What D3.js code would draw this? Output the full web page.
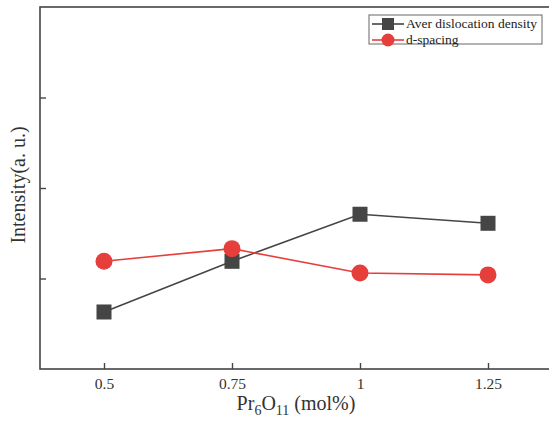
<!DOCTYPE html>
<html>
<head>
<meta charset="utf-8">
<script src="https://cdn.jsdelivr.net/npm/d3@7"></script>
<style>
  body { margin: 0; background: #fff; }
  svg text { font-family: "Liberation Serif", "DejaVu Serif", serif; }
</style>
</head>
<body>
<svg id="chart" width="549" height="426"></svg>
<script>
var xValues = [0.5, 0.75, 1, 1.25]
var xTickLabels = ['0.5', '0.75', '1', '1.25']
var dislocation = [0.63, 1.19, 1.71, 1.61]
var dSpacing = [1.19, 1.33, 1.06, 1.04]
var yTicks = [1, 2, 3]

var serif = '"Liberation Serif", "DejaVu Serif", serif'
var svg = d3.select('#chart')
var margin = {top: 7, right: -3, bottom: 57, left: 40}
var w = +svg.attr('width') - margin.left - margin.right
var h = +svg.attr('height') - margin.top - margin.bottom
var g = svg.append('g').attr('transform', 'translate(' + margin.left + ',' + margin.top + ')')

var x = d3.scaleLinear().domain([0.375, 1.375]).range([0, w])
var y = d3.scaleLinear().domain([0, 4]).range([h, 0])

var axisColor = '#444'

// frame
g.append('rect')
  .attr('x', 0).attr('y', 0).attr('width', w).attr('height', h)
  .attr('fill', 'none').attr('stroke', axisColor).attr('stroke-width', 1.6)

var xAxis = g.append('g')
  .attr('transform', 'translate(0,' + h + ')')
  .call(d3.axisBottom(x).tickValues(xValues).tickSize(-6).tickPadding(9)
    .tickFormat(function (d, i) { return xTickLabels[i] }))
xAxis.attr('font-family', serif).attr('font-size', 15.5)
xAxis.select('.domain').remove()
xAxis.selectAll('line').attr('stroke', axisColor).attr('stroke-width', 1.4)
xAxis.selectAll('text').attr('fill', '#333')

var yAxis = g.append('g')
  .call(d3.axisLeft(y).tickValues(yTicks).tickSize(-6).tickFormat(''))
yAxis.select('.domain').remove()
yAxis.selectAll('line').attr('stroke', axisColor).attr('stroke-width', 1.4)

// axis titles
svg.append('text')
  .attr('transform', 'translate(25,185) rotate(-90)')
  .attr('text-anchor', 'middle')
  .attr('font-family', serif)
  .attr('font-size', 20).attr('fill', '#333')
  .text('Intensity(a. u.)')

var xt = svg.append('text')
  .attr('x', 296).attr('y', 410)
  .attr('text-anchor', 'middle')
  .attr('font-family', serif)
  .attr('font-size', 20).attr('fill', '#333')
xt.append('tspan').text('Pr')
xt.append('tspan').attr('font-size', 14).attr('dy', 5).text('6')
xt.append('tspan').attr('dy', -5).text('O')
xt.append('tspan').attr('font-size', 14).attr('dy', 5).text('11')
xt.append('tspan').attr('dy', -5).text(' (mol%)')

var line = d3.line()
  .x(function (d, i) { return x(xValues[i]) })
  .y(function (d) { return y(d) })

var black = '#454545'
var red = '#e53e3b'

g.append('path').datum(dislocation)
  .attr('d', line).attr('fill', 'none').attr('stroke', black).attr('stroke-width', 1.6)
g.append('path').datum(dSpacing)
  .attr('d', line).attr('fill', 'none').attr('stroke', red).attr('stroke-width', 1.6)

g.selectAll('.sq').data(dislocation).enter().append('rect')
  .attr('class', 'sq')
  .attr('x', function (d, i) { return x(xValues[i]) - 7.5 })
  .attr('y', function (d) { return y(d) - 7.5 })
  .attr('width', 15).attr('height', 15)
  .attr('fill', black)

g.selectAll('.ci').data(dSpacing).enter().append('circle')
  .attr('class', 'ci')
  .attr('cx', function (d, i) { return x(xValues[i]) })
  .attr('cy', function (d) { return y(d) })
  .attr('r', 8.5)
  .attr('fill', red)

// legend
var lg = svg.append('g').attr('transform', 'translate(369,15)')
lg.append('rect').attr('width', 173).attr('height', 29)
  .attr('fill', '#fff').attr('stroke', '#666').attr('stroke-width', 1)
lg.append('line').attr('x1', 3).attr('x2', 35).attr('y1', 9).attr('y2', 9)
  .attr('stroke', black).attr('stroke-width', 1.6)
lg.append('rect').attr('x', 13).attr('y', 3).attr('width', 12).attr('height', 12).attr('fill', black)
lg.append('text').attr('x', 37).attr('y', 13).attr('font-family', serif)
  .attr('font-size', 13.5).attr('fill', '#222')
  .text('Aver dislocation density')
lg.append('line').attr('x1', 3).attr('x2', 35).attr('y1', 25).attr('y2', 25)
  .attr('stroke', red).attr('stroke-width', 1.6)
lg.append('circle').attr('cx', 19).attr('cy', 25).attr('r', 6.5).attr('fill', red)
lg.append('text').attr('x', 37).attr('y', 29).attr('font-family', serif)
  .attr('font-size', 13.5).attr('fill', '#222')
  .text('d-spacing')
</script>
</body>
</html>
